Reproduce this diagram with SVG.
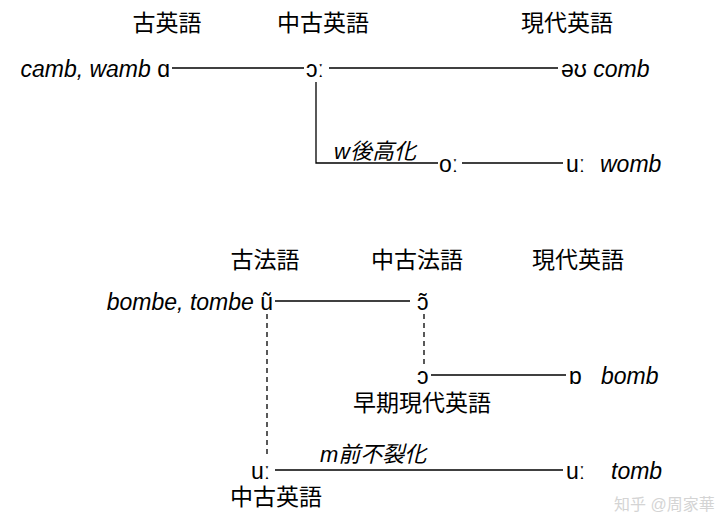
<svg xmlns="http://www.w3.org/2000/svg" width="720" height="532" viewBox="0 0 720 532">
<style>
text{font-family:"Liberation Sans","Noto Sans CJK JP",sans-serif;fill:#000}
.t{font-size:23px}
.hd{font-size:23px;text-anchor:middle}
.lb{font-size:22px;font-style:italic}
.i{font-style:italic}
.wm{font-size:16px;fill:#d4d4d4}
.c line,.c path{stroke:#000;stroke-width:1.3;fill:none}
.d{stroke-dasharray:5,4}
</style>
<rect width="720" height="532" fill="#fff"/>
<g id="headings">
<text class="hd" x="167" y="31">古英語</text>
<text class="hd" x="323" y="31">中古英語</text>
<text class="hd" x="567" y="31">現代英語</text>
<text class="hd" x="265" y="268">古法語</text>
<text class="hd" x="417" y="268">中古法語</text>
<text class="hd" x="578" y="268">現代英語</text>
</g>
<g class="c" id="connectors">
<line x1="172" y1="68" x2="304" y2="68"/>
<line x1="329" y1="68" x2="558" y2="68"/>
<path d="M316 82 V163 H438"/>
<line x1="462" y1="163" x2="563" y2="163"/>
<line x1="275" y1="301" x2="410" y2="301"/>
<line class="d" x1="267" y1="314" x2="267" y2="458"/>
<line class="d" x1="424" y1="314" x2="424" y2="366"/>
<line x1="431" y1="375" x2="566" y2="375"/>
<line x1="275" y1="470" x2="563" y2="470"/>
</g>
<g id="n1"><text class="t" x="170" y="77" text-anchor="end"><tspan class="i">camb, wamb</tspan> ɑ</text></g>
<g id="n2"><text class="t" x="306" y="77">ɔː</text></g>
<g id="n3"><text class="t" x="561" y="77">əʊ <tspan class="i">comb</tspan></text></g>
<g id="n4"><text class="t" x="439" y="172">oː</text></g>
<g id="n5"><text class="t" x="566" y="172">uː</text><text class="t i" x="600" y="172">womb</text></g>
<g id="l1"><text class="lb" x="334" y="159">w後高化</text></g>
<g id="n6"><text class="t" x="273" y="310" text-anchor="end"><tspan class="i">bombe, tombe</tspan> ũ</text></g>
<g id="n7"><text class="t" x="417" y="310">ɔ̃</text></g>
<g id="n8"><text class="t" x="417" y="384">ɔ</text></g>
<g id="n9"><text class="t" x="569" y="384">ɒ</text><text class="t i" x="601" y="384">bomb</text></g>
<g id="l2"><text class="t" x="422" y="411" text-anchor="middle">早期現代英語</text></g>
<g id="n10"><text class="t" x="251" y="479">uː</text></g>
<g id="n11"><text class="t" x="566" y="479">uː</text><text class="t i" x="611" y="479">tomb</text></g>
<g id="l3"><text class="lb" x="320" y="462">m前不裂化</text></g>
<g id="l4"><text class="t" x="276" y="505" text-anchor="middle">中古英語</text></g>
<text class="wm" x="614" y="510">知乎 @周家華</text>
</svg>
